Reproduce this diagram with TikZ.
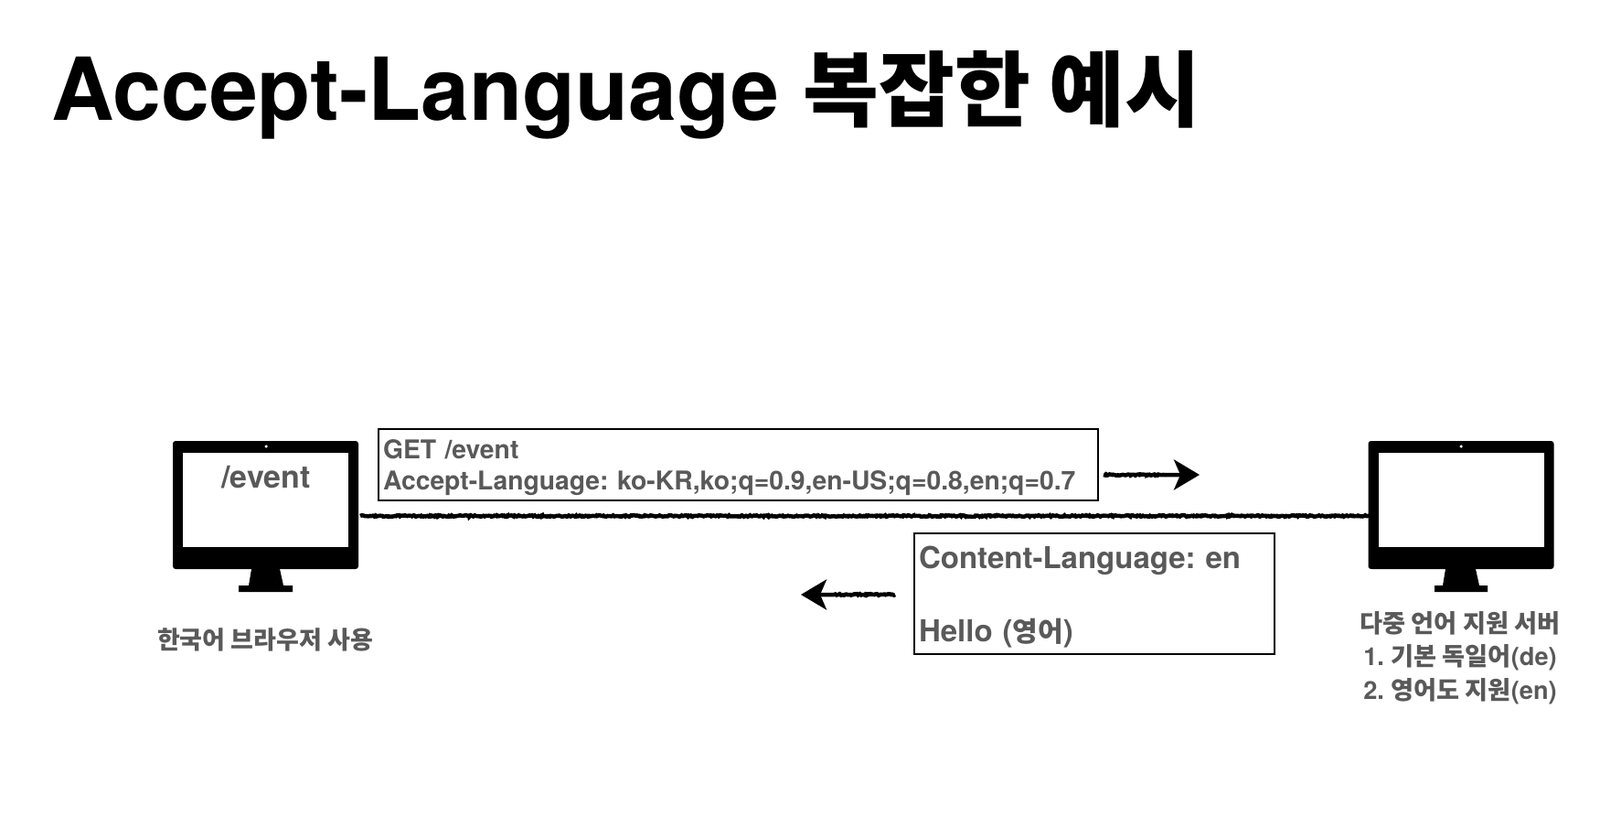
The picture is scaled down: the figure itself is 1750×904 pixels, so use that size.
\documentclass[tikz,border=0pt]{standalone}
\usepackage{fontspec}
\setmainfont{TeX Gyre Heros}
\newfontfamily\kofont{Noto Sans CJK KR}
\usepackage{tikz}
\usetikzlibrary{arrows.meta,decorations.pathmorphing}
\definecolor{labelgray}{HTML}{595959}
\newcommand{\ko}[1]{{\kofont #1}}
\frenchspacing
\tikzset{
  monitorbody/.style={fill=black,rounded corners=3pt,inner sep=0pt,minimum width=203pt,minimum height=140pt},
  monitorscreen/.style={fill=white,inner sep=0pt,minimum width=181pt,minimum height=103pt},
  monitordot/.style={fill=white,circle,inner sep=0pt,minimum size=3.5pt},
  msgbox/.style={draw=black,line width=2pt,inner sep=0pt,align=left,text=labelgray},
  label/.style={text=labelgray,align=center,inner sep=0pt},
  roughline/.style={draw=black,line width=4.5pt,decorate,decoration={random steps,segment length=1.5pt,amplitude=0.8pt}},
  rougharrow/.style={roughline,decoration={post length=36pt},-{Stealth[length=28pt,width=33pt,inset=7pt]}}
}
\begin{document}
\begin{tikzpicture}[x=1pt,y=-1pt,font=\bfseries]
\useasboundingbox (0,0) rectangle (1750,904);
\node [anchor=base west,inner sep=0pt,font=\bfseries\fontsize{95}{95}\selectfont] (title) at (56,132) {Accept-Language {\fontsize{90}{90}\selectfont\kofont 복잡한 예시}};
% client
\node [monitorbody] (client) at (290.5,552) {};
\node [monitorscreen] (clientscreen) at (290.5,546.5) {};
\node [monitordot] (clientdot) at (291,488) {};
\fill (275,622) -- (306,622) -- (310,640) -- (320,640) -- (320,647) -- (261,647) -- (261,640) -- (272,640) -- cycle;
\node [label,anchor=base,font=\bfseries\fontsize{34}{34}\selectfont] (eventlabel) at (291,533) {/event};
\node [label,anchor=base,font=\bfseries\fontsize{27}{27}\selectfont] (clientlabel) at (290,709) {\ko{한국어 브라우저 사용}};
% server
\node [monitorbody] (server) at (1598,552) {};
\node [monitorscreen] (serverscreen) at (1598,546.5) {};
\node [monitordot] (serverdot) at (1598,488) {};
\fill (1581,622) -- (1614,622) -- (1618,640) -- (1627,640) -- (1627,647) -- (1569,647) -- (1569,640) -- (1578,640) -- cycle;
\node [label,anchor=north,font=\bfseries\fontsize{27.2}{36.5}\selectfont] (serverlabel) at (1597,668) {\ko{다중 언어 지원 서버}\\1. \ko{기본 독일어}(de)\\2. \ko{영어도 지원}(en)};
% messages
\node [msgbox,anchor=north west,minimum width=787pt,minimum height=78pt,text width=777pt,font=\bfseries\fontsize{28.3}{34}\selectfont] (request) at (413,468) {\rule{0pt}{27pt}GET /event\\Accept-Language: ko-KR,ko;q=0.9,en-US;q=0.8,en;q=0.7};
\node [msgbox,anchor=north west,minimum width=394pt,minimum height=132pt,text width=384pt,font=\bfseries\fontsize{33}{40}\selectfont] (response) at (999,582) {\rule{0pt}{31pt}Content-Language: en\\[40pt]Hello ({\fontsize{30}{40}\selectfont\kofont 영어})};
\coordinate (wireleft) at (394,564);
\coordinate (wireright) at (1498,564);
\coordinate (reqstart) at (1207,519);
\coordinate (reqend) at (1312,519);
\coordinate (respstart) at (979,650);
\coordinate (respend) at (876,650);
\draw [roughline] (wireleft) -- (wireright);
\draw [rougharrow] (reqstart) -- (reqend);
\draw [rougharrow] (respstart) -- (respend);
\end{tikzpicture}
\end{document}
